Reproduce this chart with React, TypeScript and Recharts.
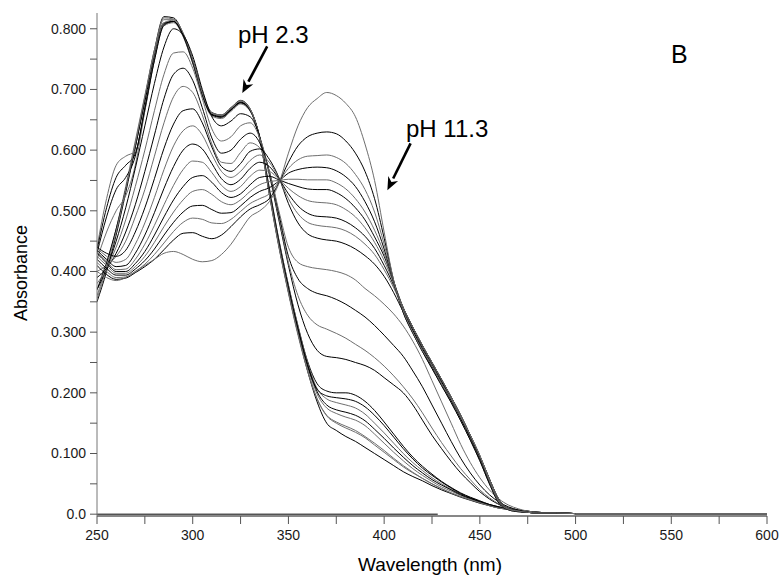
import { LineChart, Line, XAxis, YAxis, ReferenceLine } from "recharts";

// wavelength grid (nm) shared by all spectra
const wavelengths = [
  250, 255, 260, 265, 270, 275, 280, 285, 290, 295,
  300, 305, 310, 315, 320, 325, 330, 335, 340, 345,
  350, 355, 360, 365, 370, 375, 380, 385, 390, 395,
  400, 405, 410, 415, 420, 425, 430, 435, 440, 445,
  450, 455, 460, 465, 470, 475, 480,
];
// flat baseline part, identical for every trace
const tailWavelengths = [490, 500, 550, 600];
const tailValues = [0.002, 0.001, 0.001, 0.001];

// acidic spectra (pH 2.3 side)
const acid1 = [0.35, 0.40, 0.46, 0.53, 0.605, 0.685, 0.765, 0.82, 0.818, 0.792, 0.748, 0.695, 0.662, 0.658, 0.67, 0.682, 0.668, 0.618, 0.528, 0.442, 0.366, 0.298, 0.236, 0.185, 0.15, 0.138, 0.128, 0.12, 0.11, 0.1, 0.09, 0.08, 0.07, 0.062, 0.055, 0.047, 0.04, 0.034, 0.028, 0.023, 0.018, 0.014, 0.01, 0.008, 0.006, 0.004, 0.003];
const acid2 = [0.36, 0.41, 0.47, 0.54, 0.615, 0.69, 0.765, 0.815, 0.815, 0.79, 0.746, 0.693, 0.66, 0.657, 0.668, 0.68, 0.667, 0.62, 0.533, 0.447, 0.372, 0.303, 0.243, 0.198, 0.175, 0.166, 0.16, 0.155, 0.146, 0.132, 0.117, 0.102, 0.088, 0.075, 0.064, 0.054, 0.045, 0.038, 0.031, 0.025, 0.02, 0.015, 0.011, 0.008, 0.006, 0.004, 0.003];
const acid3 = [0.37, 0.415, 0.47, 0.535, 0.605, 0.68, 0.757, 0.81, 0.812, 0.788, 0.744, 0.691, 0.658, 0.655, 0.666, 0.678, 0.666, 0.622, 0.538, 0.452, 0.377, 0.31, 0.252, 0.215, 0.203, 0.2, 0.2, 0.196, 0.186, 0.171, 0.152, 0.132, 0.112, 0.094, 0.079, 0.066, 0.054, 0.044, 0.035, 0.028, 0.022, 0.016, 0.012, 0.009, 0.006, 0.004, 0.003];
const acid4 = [0.44, 0.52, 0.575, 0.59, 0.598, 0.665, 0.748, 0.805, 0.81, 0.787, 0.743, 0.689, 0.656, 0.652, 0.664, 0.676, 0.664, 0.62, 0.535, 0.452, 0.378, 0.31, 0.25, 0.207, 0.19, 0.184, 0.18, 0.175, 0.165, 0.15, 0.134, 0.117, 0.1, 0.085, 0.072, 0.06, 0.05, 0.041, 0.033, 0.026, 0.02, 0.015, 0.011, 0.008, 0.006, 0.004, 0.003];
const acid5 = [0.43, 0.49, 0.535, 0.555, 0.59, 0.67, 0.752, 0.808, 0.812, 0.789, 0.746, 0.692, 0.659, 0.656, 0.667, 0.679, 0.666, 0.621, 0.531, 0.444, 0.369, 0.302, 0.244, 0.206, 0.195, 0.192, 0.19, 0.186, 0.177, 0.163, 0.146, 0.127, 0.108, 0.091, 0.076, 0.064, 0.053, 0.043, 0.034, 0.027, 0.021, 0.016, 0.012, 0.009, 0.006, 0.004, 0.003];
const acid6 = [0.42, 0.465, 0.5, 0.525, 0.575, 0.665, 0.75, 0.81, 0.814, 0.791, 0.748, 0.694, 0.661, 0.658, 0.67, 0.681, 0.668, 0.619, 0.527, 0.44, 0.364, 0.295, 0.236, 0.19, 0.163, 0.152, 0.145, 0.138, 0.128, 0.117, 0.105, 0.092, 0.08, 0.069, 0.059, 0.05, 0.042, 0.035, 0.029, 0.024, 0.019, 0.014, 0.01, 0.008, 0.006, 0.004, 0.003];
const acid7 = [0.435, 0.505, 0.555, 0.575, 0.594, 0.668, 0.748, 0.806, 0.812, 0.79, 0.746, 0.692, 0.658, 0.654, 0.666, 0.678, 0.665, 0.62, 0.534, 0.449, 0.374, 0.306, 0.247, 0.202, 0.18, 0.172, 0.168, 0.163, 0.154, 0.14, 0.125, 0.109, 0.094, 0.08, 0.068, 0.057, 0.048, 0.04, 0.032, 0.026, 0.02, 0.015, 0.011, 0.008, 0.006, 0.004, 0.003];
const acid8 = [0.355, 0.405, 0.465, 0.535, 0.61, 0.688, 0.762, 0.818, 0.816, 0.793, 0.749, 0.695, 0.661, 0.657, 0.669, 0.681, 0.667, 0.619, 0.529, 0.443, 0.367, 0.298, 0.238, 0.19, 0.162, 0.15, 0.142, 0.135, 0.126, 0.114, 0.102, 0.09, 0.078, 0.068, 0.059, 0.05, 0.042, 0.035, 0.029, 0.024, 0.019, 0.014, 0.01, 0.008, 0.006, 0.004, 0.003];

// titration spectra, increasing pH
const mid1 = [0.37, 0.405, 0.45, 0.505, 0.57, 0.64, 0.71, 0.77, 0.8, 0.79, 0.755, 0.7, 0.655, 0.64, 0.648, 0.66, 0.655, 0.622, 0.56, 0.485, 0.41, 0.345, 0.298, 0.27, 0.26, 0.258, 0.255, 0.25, 0.245, 0.237, 0.225, 0.213, 0.2, 0.18, 0.155, 0.13, 0.108, 0.087, 0.068, 0.052, 0.037, 0.025, 0.016, 0.01, 0.007, 0.005, 0.003];
const mid2 = [0.38, 0.405, 0.44, 0.485, 0.54, 0.6, 0.665, 0.725, 0.76, 0.762, 0.735, 0.685, 0.635, 0.615, 0.622, 0.64, 0.645, 0.62, 0.565, 0.49, 0.415, 0.36, 0.328, 0.312, 0.305, 0.298, 0.29, 0.28, 0.27, 0.258, 0.244, 0.228, 0.21, 0.19, 0.167, 0.142, 0.118, 0.096, 0.075, 0.057, 0.04, 0.027, 0.017, 0.011, 0.007, 0.005, 0.003];
const mid3 = [0.39, 0.405, 0.43, 0.465, 0.51, 0.565, 0.625, 0.685, 0.725, 0.735, 0.715, 0.67, 0.62, 0.595, 0.6, 0.618, 0.628, 0.612, 0.565, 0.495, 0.425, 0.388, 0.372, 0.364, 0.36, 0.354, 0.346, 0.336, 0.325, 0.311, 0.295, 0.278, 0.26, 0.236, 0.21, 0.18, 0.15, 0.12, 0.092, 0.068, 0.048, 0.032, 0.02, 0.012, 0.007, 0.005, 0.003];
const mid4 = [0.4, 0.41, 0.425, 0.45, 0.49, 0.535, 0.59, 0.645, 0.688, 0.705, 0.695, 0.658, 0.61, 0.58, 0.578, 0.596, 0.612, 0.604, 0.565, 0.5, 0.44, 0.415, 0.408, 0.405, 0.403, 0.4, 0.395, 0.386, 0.372, 0.36, 0.346, 0.33, 0.31, 0.285, 0.255, 0.22, 0.185, 0.15, 0.115, 0.085, 0.06, 0.04, 0.025, 0.015, 0.009, 0.005, 0.003];
const base1 = [0.44, 0.43, 0.425, 0.435, 0.465, 0.505, 0.553, 0.603, 0.643, 0.665, 0.668, 0.645, 0.605, 0.573, 0.565, 0.578, 0.598, 0.602, 0.585, 0.555, 0.512, 0.48, 0.462, 0.455, 0.452, 0.45, 0.445, 0.437, 0.426, 0.412, 0.392, 0.365, 0.333, 0.3, 0.27, 0.243, 0.215, 0.187, 0.157, 0.125, 0.09, 0.052, 0.019, 0.008, 0.005, 0.003, 0.002];
const base2 = [0.438, 0.425, 0.415, 0.42, 0.445, 0.48, 0.522, 0.568, 0.607, 0.632, 0.64, 0.625, 0.593, 0.565, 0.555, 0.565, 0.583, 0.592, 0.58, 0.554, 0.52, 0.495, 0.481, 0.476, 0.474, 0.472, 0.467, 0.458, 0.445, 0.428, 0.403, 0.373, 0.338, 0.306, 0.276, 0.248, 0.22, 0.192, 0.162, 0.13, 0.095, 0.057, 0.023, 0.009, 0.005, 0.003, 0.002];
const base3 = [0.435, 0.42, 0.408, 0.41, 0.43, 0.46, 0.497, 0.537, 0.573, 0.6, 0.61, 0.602, 0.578, 0.553, 0.543, 0.552, 0.57, 0.58, 0.573, 0.553, 0.528, 0.508, 0.496, 0.491, 0.49, 0.488, 0.482, 0.472, 0.458, 0.438, 0.41, 0.377, 0.34, 0.308, 0.278, 0.25, 0.222, 0.193, 0.163, 0.13, 0.096, 0.058, 0.024, 0.009, 0.005, 0.003, 0.002];
const base4 = [0.432, 0.417, 0.403, 0.404, 0.42, 0.445, 0.476, 0.51, 0.542, 0.568, 0.582, 0.58, 0.563, 0.542, 0.532, 0.54, 0.557, 0.567, 0.565, 0.552, 0.537, 0.525, 0.517, 0.514, 0.513, 0.51, 0.502, 0.49, 0.472, 0.448, 0.418, 0.38, 0.336, 0.303, 0.273, 0.246, 0.218, 0.19, 0.16, 0.128, 0.094, 0.055, 0.02, 0.008, 0.005, 0.003, 0.002];
const base5 = [0.43, 0.414, 0.4, 0.4, 0.413, 0.433, 0.46, 0.49, 0.518, 0.54, 0.555, 0.558, 0.547, 0.53, 0.522, 0.528, 0.543, 0.555, 0.557, 0.551, 0.545, 0.54, 0.536, 0.535, 0.535, 0.53, 0.52, 0.505, 0.485, 0.457, 0.425, 0.383, 0.34, 0.308, 0.278, 0.25, 0.222, 0.193, 0.163, 0.13, 0.096, 0.058, 0.024, 0.009, 0.005, 0.003, 0.002];
const base6 = [0.425, 0.41, 0.397, 0.397, 0.408, 0.425, 0.448, 0.474, 0.498, 0.518, 0.532, 0.535, 0.527, 0.515, 0.51, 0.518, 0.532, 0.543, 0.548, 0.55, 0.552, 0.552, 0.551, 0.551, 0.551, 0.546, 0.536, 0.52, 0.498, 0.468, 0.43, 0.382, 0.332, 0.298, 0.268, 0.24, 0.212, 0.184, 0.154, 0.122, 0.088, 0.05, 0.018, 0.007, 0.004, 0.003, 0.002];
const base7 = [0.42, 0.405, 0.394, 0.394, 0.404, 0.418, 0.437, 0.46, 0.481, 0.498, 0.508, 0.509, 0.502, 0.496, 0.497, 0.508, 0.522, 0.532, 0.538, 0.549, 0.562, 0.568, 0.571, 0.572, 0.571, 0.566, 0.556, 0.54, 0.515, 0.482, 0.437, 0.382, 0.336, 0.303, 0.273, 0.246, 0.218, 0.19, 0.16, 0.128, 0.094, 0.055, 0.02, 0.008, 0.005, 0.003, 0.002];
const base8 = [0.415, 0.4, 0.39, 0.391, 0.4, 0.412, 0.428, 0.447, 0.466, 0.481, 0.488, 0.486, 0.48, 0.479, 0.486, 0.499, 0.512, 0.52, 0.528, 0.548, 0.57, 0.584, 0.59, 0.591, 0.592, 0.588, 0.578, 0.56, 0.535, 0.498, 0.445, 0.383, 0.34, 0.308, 0.278, 0.25, 0.222, 0.193, 0.163, 0.13, 0.096, 0.058, 0.024, 0.009, 0.005, 0.003, 0.002];
const base9 = [0.41, 0.395, 0.387, 0.389, 0.398, 0.408, 0.42, 0.436, 0.452, 0.463, 0.464, 0.458, 0.454, 0.46, 0.474, 0.49, 0.503, 0.51, 0.52, 0.546, 0.58, 0.607, 0.622, 0.628, 0.63, 0.627, 0.615, 0.595, 0.565, 0.52, 0.455, 0.385, 0.332, 0.298, 0.268, 0.24, 0.212, 0.184, 0.154, 0.122, 0.088, 0.05, 0.018, 0.007, 0.004, 0.003, 0.002];
// pH 11.3
const base10 = [0.4, 0.39, 0.385, 0.39, 0.4, 0.41, 0.42, 0.43, 0.433, 0.428, 0.42, 0.416, 0.418, 0.428, 0.445, 0.468, 0.49, 0.5, 0.515, 0.545, 0.595, 0.64, 0.67, 0.685, 0.695, 0.69, 0.677, 0.655, 0.61, 0.55, 0.465, 0.385, 0.335, 0.3, 0.27, 0.245, 0.215, 0.19, 0.16, 0.13, 0.097, 0.055, 0.02, 0.008, 0.005, 0.003, 0.002];

const spectra = [
  acid1, acid2, acid3, acid4, acid5, acid6, acid7, acid8,
  mid1, mid2, mid3, mid4,
  base1, base2, base3, base4, base5, base6, base7, base8, base9, base10,
];

// short blank trace along zero
const blankWavelengths = [250, 428];
const blankValues = [0, 0];

const xTicks = [250, 275, 300, 325, 350, 375, 400, 425, 450, 475, 500, 525, 550, 575, 600];
const yTicks = [0, 0.05, 0.1, 0.15, 0.2, 0.25, 0.3, 0.35, 0.4, 0.45, 0.5, 0.55, 0.6, 0.65, 0.7, 0.75, 0.8];

const rows = [
  ...wavelengths.map((wl, i) => {
    const row: Record<string, number> = { wl };
    spectra.forEach((s, k) => (row["s" + k] = s[i]));
    return row;
  }),
  ...tailWavelengths.map((wl, i) => {
    const row: Record<string, number> = { wl };
    spectra.forEach((_, k) => (row["s" + k] = tailValues[i]));
    return row;
  }),
];
const blank = blankWavelengths.map((wl, i) => ({ wl, v: blankValues[i] }));

const font = '"Liberation Sans", Arial, sans-serif';

const Arrow = (props: any) => {
  const { x1, y1, x2, y2 } = props;
  const a = Math.atan2(y2 - y1, x2 - x1);
  const len = 13;
  const w = 5.5;
  const bx = x2 - len * Math.cos(a);
  const by = y2 - len * Math.sin(a);
  const px = -Math.sin(a) * w;
  const py = Math.cos(a) * w;
  return (
    <g>
      <line x1={x1} y1={y1} x2={bx} y2={by} stroke="#000" strokeWidth={2.6} />
      <path
        d={`M${x2},${y2} L${bx + px},${by + py} L${bx + 0.3 * (x2 - bx)},${by + 0.3 * (y2 - by)} L${bx - px},${by - py} Z`}
        fill="#000"
      />
    </g>
  );
};

export default function App() {
  return (
    <div style={{ position: "absolute", left: 0, top: 0, width: 779, height: 580, background: "#fff", fontFamily: font }}>
      <LineChart width={779} height={580} data={rows} margin={{ top: 13, right: 12, bottom: 34, left: 0 }}>
        <XAxis
          dataKey="wl"
          type="number"
          domain={[250, 600]}
          ticks={xTicks}
          interval={0}
          allowDataOverflow
          height={30}
          tickSize={8}
          tickMargin={6}
          tickFormatter={(v) => (v % 50 === 0 ? String(v) : "")}
          tick={{ fill: "#1a1a1a", fontSize: 14, fontFamily: font }}
          axisLine={{ stroke: "#111" }}
          tickLine={{ stroke: "#555" }}
        />
        <XAxis
          xAxisId="top"
          orientation="top"
          dataKey="wl"
          type="number"
          domain={[250, 600]}
          height={0}
          tick={false}
          tickLine={false}
          axisLine={{ stroke: "#888" }}
        />
        <YAxis
          type="number"
          domain={[-0.003, 0.826]}
          ticks={yTicks}
          interval={0}
          allowDataOverflow
          width={97}
          tickSize={7}
          tickMargin={4}
          tickFormatter={(v) => {
            const k = Math.round(v * 100);
            if (k % 10 !== 0) return "";
            return k === 0 ? "0.0" : v.toFixed(3);
          }}
          tick={{ fill: "#1a1a1a", fontSize: 14, fontFamily: font }}
          axisLine={{ stroke: "#777" }}
          tickLine={{ stroke: "#555" }}
        />
        <YAxis
          yAxisId="right"
          orientation="right"
          type="number"
          domain={[0, 1]}
          width={0}
          tick={false}
          tickLine={false}
          axisLine={{ stroke: "#111" }}
        />
        <Line data={blank} dataKey="v" stroke="#000" strokeWidth={1} dot={false} isAnimationActive={false} />
        {spectra.map((_, k) => (
          <Line
            key={k}
            type="monotone"
            dataKey={"s" + k}
            stroke={k % 2 === 0 ? "#000" : "#6e6e6e"}
            strokeWidth={1}
            dot={false}
            isAnimationActive={false}
          />
        ))}
        <ReferenceLine segment={[{ x: 338.9, y: 0.771 }, { x: 325.9, y: 0.694 }]} shape={Arrow} />
        <ReferenceLine segment={[{ x: 413.8, y: 0.611 }, { x: 401.7, y: 0.534 }]} shape={Arrow} />
      </LineChart>
      <svg width={779} height={580} style={{ position: "absolute", left: 0, top: 0, pointerEvents: "none" }}>
        <text x={238} y={43} fontSize={24} fontFamily={font} fill="#000">pH 2.3</text>
        <text x={406} y={137} fontSize={24} fontFamily={font} fill="#000">pH 11.3</text>
        <text x={671} y={63} fontSize={25} fontFamily={font} fill="#000">B</text>
        <text x={430} y={571} fontSize={19} fontFamily={font} fill="#000" textAnchor="middle">Wavelength (nm)</text>
        <text transform="translate(27,273) rotate(-90)" fontSize={18} fontFamily={font} fill="#000" textAnchor="middle">Absorbance</text>
      </svg>
    </div>
  );
}
